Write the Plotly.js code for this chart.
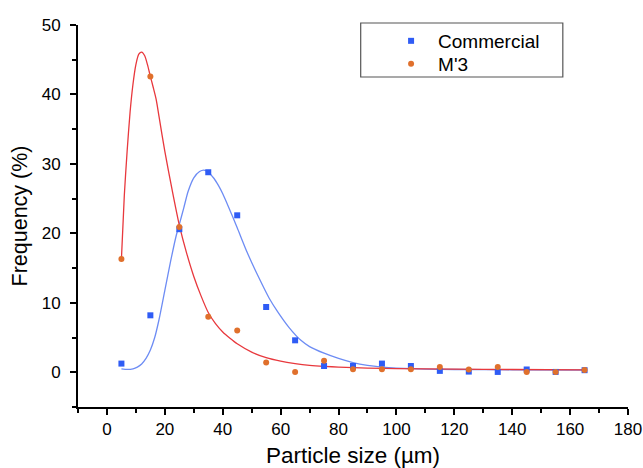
<!DOCTYPE html>
<html>
<head>
<meta charset="utf-8">
<script src="https://cdn.plot.ly/plotly-3.0.1.min.js"></script>
<style>html,body{margin:0;padding:0;background:#fff;}#chart{width:643px;height:468px;}</style>
</head>
<body>
<div id="chart"></div>
<script>
// Measured particle size classes (µm)
const sizes = [5, 15, 25, 35, 45, 55, 65, 75, 85, 95, 105, 115, 125, 135, 145, 155, 165];
// Frequency (%) – Commercial
const commercial = [1.25, 8.2, 20.6, 28.8, 22.6, 9.4, 4.6, 0.9, 0.9, 1.25, 0.9, 0.2, 0.1, 0.05, 0.4, 0.05, 0.3];
// Frequency (%) – M'3
const m3 = [16.3, 42.6, 20.9, 8.0, 6.0, 1.4, 0.05, 1.65, 0.45, 0.45, 0.45, 0.75, 0.4, 0.75, 0.05, 0.05, 0.33];

// Fitted curves
const fitCommercialX = [5, 7, 9, 10.5, 12, 13.5, 15, 16.5, 18, 20, 22, 24, 25, 26.5, 28, 30, 32, 33.5, 35, 37, 38.5, 40, 42, 45, 48.5, 52.5, 56, 59, 63, 67, 70, 75, 80, 85, 90, 95, 100, 110, 120, 140, 165];
const fitCommercialY = [0.5, 0.42, 0.5, 0.75, 1.2, 2.0, 3.2, 5.0, 7.6, 11.8, 16, 19.8, 21.3, 23.6, 26.0, 28.0, 28.9, 29.1, 28.8, 27.9, 26.9, 25.7, 23.8, 20.8, 17.2, 13.6, 10.7, 8.7, 6.4, 4.6, 3.7, 2.75, 2.0, 1.4, 1.0, 0.75, 0.6, 0.45, 0.4, 0.35, 0.33];
const fitM3X = [5, 6, 7, 8, 9, 10, 11, 12, 13, 14, 15, 16, 17, 18, 20, 22.5, 25, 27.5, 30, 32.5, 35, 37.5, 40, 42.5, 45, 50, 55, 60, 65, 70, 75, 80, 90, 100, 120, 140, 165];
const fitM3Y = [16.3, 25.5, 32, 37.5, 41.5, 44.3, 45.8, 46.1, 45.6, 44.3, 42.6, 41, 39.3, 36.8, 31.8, 26.3, 21.2, 17.2, 13.8, 11.0, 8.6, 7.0, 5.8, 4.9, 4.1, 2.9, 2.1, 1.6, 1.25, 1.0, 0.85, 0.75, 0.6, 0.52, 0.45, 0.4, 0.35];

const seriesNames = ["Commercial", "M'3"];
const xTitle = "Particle size (µm)";
const yTitle = "Frequency (%)";

const blue = "#2f5cf5";
const blueLine = "#6d8cf4";
const orange = "#e0702c";
const red = "#e8383d";

const traces = [
  {x: fitCommercialX, y: fitCommercialY, mode: "lines", line: {color: blueLine, width: 1.3, shape: "spline", smoothing: 0.6}, showlegend: false, hoverinfo: "skip"},
  {x: fitM3X, y: fitM3Y, mode: "lines", line: {color: red, width: 1.3, shape: "spline", smoothing: 0.7}, showlegend: false, hoverinfo: "skip"},
  {x: sizes, y: commercial, name: seriesNames[0], mode: "markers", marker: {symbol: "square", size: 6, color: blue}, legend: "legend"},
  {x: sizes, y: m3, name: seriesNames[1], mode: "markers", marker: {symbol: "circle", size: 6, color: orange}, legend: "legend2"}
];

const fam = "Liberation Sans, Arial, sans-serif";
const axisFont = {family: fam, size: 17, color: "#000"};
const legendFont = {family: fam, size: 19, color: "#000"};
const layout = {
  width: 643, height: 468,
  margin: {l: 78, r: 15, t: 25, b: 61},
  paper_bgcolor: "#fff", plot_bgcolor: "#fff",
  font: axisFont,
  showlegend: true,
  legend: {
    x: 0.5565, y: 1.0079, xanchor: "left", yanchor: "top",
    borderwidth: 0, bgcolor: "rgba(0,0,0,0)", font: legendFont, itemwidth: 44
  },
  legend2: {
    x: 0.5565, y: 0.9476, xanchor: "left", yanchor: "top",
    borderwidth: 0, bgcolor: "rgba(0,0,0,0)", font: legendFont, itemwidth: 44
  },
  shapes: [
    {type: "rect", xref: "paper", yref: "paper", x0: 0.514, x1: 0.8815, y0: 0.8639, y1: 1.0052,
     line: {color: "#555", width: 1.2}, fillcolor: "rgba(0,0,0,0)", layer: "below"}
  ],
  xaxis: {
    range: [-10, 180], tickmode: "linear", tick0: 0, dtick: 20,
    showgrid: false, zeroline: false, showline: true, linecolor: "#000", linewidth: 2,
    ticks: "outside", ticklen: 6, tickwidth: 2, tickcolor: "#000",
    minor: {dtick: 10, tick0: 0, ticks: "outside", ticklen: 4, tickwidth: 2, tickcolor: "#000", showgrid: false},
    tickfont: axisFont, ticklabeloverflow: "allow",
    title: {text: xTitle, font: {family: fam, size: 22.5, color: "#000"}, standoff: 10},
    automargin: false
  },
  yaxis: {
    range: [-5, 50], tickmode: "linear", tick0: 0, dtick: 10,
    showgrid: false, zeroline: false, showline: true, linecolor: "#000", linewidth: 2,
    ticks: "outside", ticklen: 6, tickwidth: 2, tickcolor: "#000",
    minor: {dtick: 5, tick0: 0, ticks: "outside", ticklen: 4, tickwidth: 2, tickcolor: "#000", showgrid: false},
    tickfont: axisFont, ticklabelstandoff: 6, ticklabeloverflow: "allow",
    title: {text: yTitle, font: {family: fam, size: 21.5, color: "#000"}, standoff: 8},
    automargin: false
  }
};

Plotly.newPlot("chart", traces, layout, {displayModeBar: false, staticPlot: true});
</script>
</body>
</html>
